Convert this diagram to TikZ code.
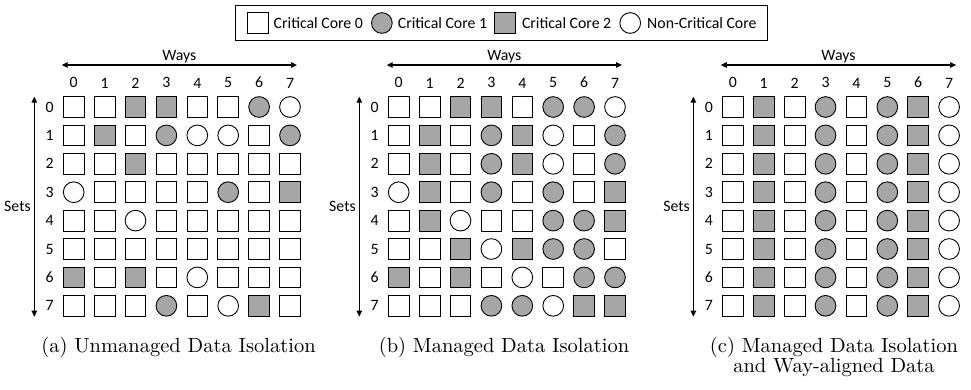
\documentclass[tikz,border=0pt]{standalone}
\usepackage{fontspec}
\newfontfamily\calibri{Carlito}
\newfontfamily\capfont{lmroman10-regular.otf}
\usetikzlibrary{arrows.meta,positioning,fit}
\definecolor{cellgray}{RGB}{166,166,166}

\begin{document}
\begin{tikzpicture}[
  x=1pt, y=-1pt,
  cell/.style={draw, line width=0.9pt, inner sep=0pt, minimum size=20.7pt},
  core0/.style={cell, rectangle, fill=white},
  core1/.style={cell, circle, fill=cellgray},
  core2/.style={cell, rectangle, fill=cellgray},
  coren/.style={cell, circle, fill=white},
  lbl/.style={inner sep=0pt, font=\calibri\fontsize{15.8}{18}\selectfont},
  dimarr/.style={{Triangle[length=6pt,width=5.5pt]}-{Triangle[length=6pt,width=5.5pt]}, line width=1.1pt},
  capt/.style={inner sep=0pt, align=center, font=\capfont\fontsize{20.5}{19.5}\selectfont}
]
\useasboundingbox (0,0) rectangle (971,389);

% Legend
\node[core0] (lg0) at (257.7,23) {};
\node[lbl, right=5pt of lg0] (lt0) {Critical Core 0};
\node[core1, right=8pt of lt0] (lg1) {};
\node[lbl, right=5pt of lg1] (lt1) {Critical Core 1};
\node[core2, right=7pt of lt1] (lg2) {};
\node[lbl, right=6pt of lg2] (lt2) {Critical Core 2};
\node[coren, right=8pt of lt2] (lg3) {};
\node[lbl, right=6pt of lg3] (lt3) {Non-Critical Core};
\node[draw, line width=0.9pt, fit=(lg0)(lt3), inner xsep=11pt, inner ysep=6.6pt] (legend) {};

% Grid (a): unmanaged
\foreach \row [count=\r from 0] in {
  {0,0,2,2,0,0,1,n}, {0,2,0,1,n,n,0,1}, {0,0,2,0,0,0,0,0}, {n,0,0,0,0,1,0,2},
  {0,0,n,0,0,0,0,0}, {0,0,0,0,0,0,0,0}, {2,0,2,0,n,0,0,0}, {0,0,0,1,0,n,2,0}}
  \foreach \t [count=\c from 0] in \row
    \node[core\t] (a-\r-\c) at ({73.7+30.9*\c},{107+28.4*\r}) {};

% Grid (b): managed
\foreach \row [count=\r from 0] in {
  {0,0,2,2,0,1,1,n}, {0,2,0,1,2,n,0,1}, {0,2,0,1,2,n,0,1}, {n,2,0,1,0,1,0,2},
  {0,2,n,0,0,1,1,2}, {0,0,2,n,2,1,1,0}, {2,0,2,0,n,0,1,1}, {0,0,0,1,1,n,2,2}}
  \foreach \t [count=\c from 0] in \row
    \node[core\t] (b-\r-\c) at ({398.7+30.9*\c},{107+28.4*\r}) {};

% Grid (c): managed, way-aligned
\foreach \r in {0,...,7}
  \foreach \t [count=\c from 0] in {0,2,0,1,0,1,2,n}
    \node[core\t] (c-\r-\c) at ({732.8+30.9*\c},{107+28.4*\r}) {};

% Indices and axes
\foreach \g/\gx in {a/73.7, b/398.7, c/732.8} {
  \foreach \i in {0,...,7} {
    \node[lbl, above=8pt of \g-0-\i] {\i};
    \node[lbl, left=9pt of \g-\i-0] {\i};
  }
  \coordinate (\g-wl) at (\gx-12,65);
  \coordinate (\g-wr) at (\gx+223.3,65);
  \draw[dimarr] (\g-wl) -- (\g-wr) node[lbl, midway, above=1pt] {Ways};
  \coordinate (\g-st) at (\gx-39.4,96.7);
  \coordinate (\g-sb) at (\gx-39.4,316.7);
  \draw[dimarr] (\g-st) -- (\g-sb) node[lbl, midway, left=3pt] {Sets};
}

% Captions
\node[capt, anchor=base] (a-cap) at (178.5,352) {(a) Unmanaged Data Isolation};
\node[capt, anchor=base] (b-cap) at (504,352) {(b) Managed Data Isolation};
\node[capt, anchor=north] (c-cap) at (834,337) {(c) Managed Data Isolation\\and Way-aligned Data};
\end{tikzpicture}
\end{document}
